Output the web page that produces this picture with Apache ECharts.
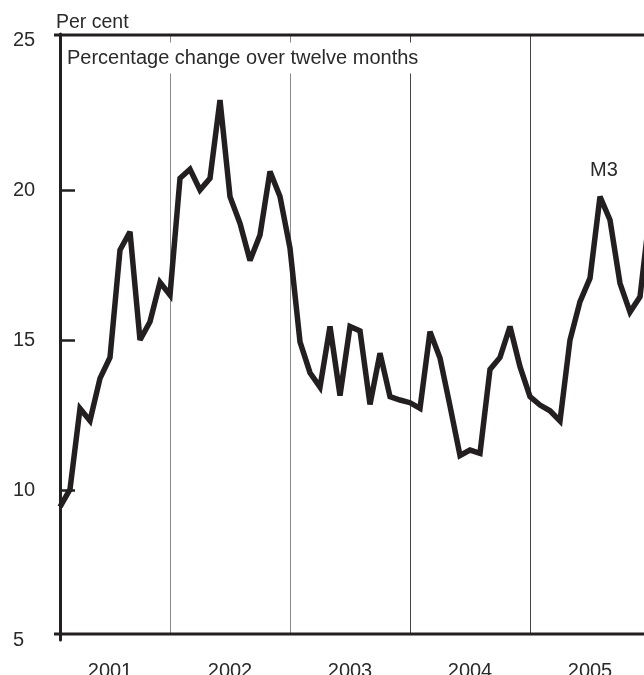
<!DOCTYPE html>
<html><head><meta charset="utf-8">
<script src="https://cdn.jsdelivr.net/npm/echarts@6/dist/echarts.min.js"></script>
<style>html,body{margin:0;padding:0;background:#fff}#c{width:644px;height:675px}</style>
</head><body><div id="c"></div>
<script>
// Monthly M3, percentage change over twelve months; index 0 = Jan 2001
const m3Values = [
  9.44, 10.02, 12.72, 12.31, 13.72, 14.42, 18.0, 18.61, 15.0, 15.61, 16.92, 16.5,
  20.39, 20.69, 20.0, 20.39, 23.0, 19.78, 18.89, 17.65, 18.5, 20.62, 19.78, 18.06,
  14.94, 13.91, 13.43, 15.45, 13.15, 15.45, 15.3, 12.85, 14.56, 13.11, 13.0, 12.91,
  12.72, 15.28, 14.4, 12.8, 11.15, 11.33, 11.22, 14.02, 14.42, 15.45, 14.11, 13.11,
  12.83, 12.64, 12.3, 15.0, 16.28, 17.06, 19.78, 19.0, 16.89, 15.93, 16.44, 19.3
];
const yearLabels = ['2001', '2002', '2003', '2004', '2005'];
const yearLabelPos = [5, 17, 29, 41, 53];
const yearBoundaries = [11, 23, 35, 47];
const boundaryColors = ['#8a8a8a', '#8a8a8a', '#444', '#444'];
const yTickLabels = [5, 10, 15, 20, 25];
const yInnerTicks = [10, 15, 20];
const yMin = 5, yMax = 25.2, frameBottom = 5.2;

const FONT = '"Liberation Sans", Arial, sans-serif';
const TXT = '#2a2a2a';
const INK = '#231f20';

const chart = echarts.init(document.getElementById('c'), null, {renderer: 'canvas'});
chart.setOption({
  animation: false,
  backgroundColor: '#fff',
  grid: {left: 55, right: 0, top: 34, bottom: 35, containLabel: false, outerBoundsMode: 'none'},
  xAxis: {
    type: 'value', min: -0.5, max: 58.4,
    axisLine: {show: false}, axisTick: {show: false}, splitLine: {show: false},
    axisLabel: {
      customValues: yearLabelPos,
      formatter: v => yearLabels[yearLabelPos.indexOf(v)] || '',
      margin: 21, fontSize: 20, color: TXT, fontFamily: FONT
    }
  },
  yAxis: {
    type: 'value', min: yMin, max: yMax, interval: 5,
    axisLine: {show: true, lineStyle: {color: INK, width: 3}},
    axisTick: {show: true, inside: true, length: 15, customValues: yInnerTicks,
      lineStyle: {color: INK, width: 2.5}},
    axisLabel: {customValues: yTickLabels, align: 'left', margin: 42,
      fontSize: 20, color: TXT, fontFamily: FONT, padding: [4, 0, 0, 0]},
    splitLine: {show: false}
  },
  series: [{
    type: 'line',
    data: m3Values.map((v, i) => [i, v]),
    symbol: 'none',
    clip: true,
    lineStyle: {color: INK, width: 5.5, join: 'miter', cap: 'butt', miterLimit: 3},
    z: 5,
    markLine: {
      silent: true, symbol: ['none', 'none'], label: {show: false},
      animation: false,
      data: yearBoundaries.map((b, k) => [
        {coord: [b, frameBottom], lineStyle: {color: boundaryColors[k], width: 1, type: 'solid'}},
        {coord: [b, yMax]}
      ])
    }
  }],
  graphic: [
    {type: 'line', z: 50, shape: {x1: 54, y1: 35, x2: 644, y2: 35}, style: {stroke: INK, lineWidth: 3}},
    {type: 'line', z: 50, shape: {x1: 54, y1: 634, x2: 644, y2: 634}, style: {stroke: INK, lineWidth: 3}},
    {type: 'text', z: 50, x: 56, y: 23, style: {text: 'Per cent', font: '19.5px ' + FONT, fill: TXT, textVerticalAlign: 'middle'}},
    {type: 'text', z: 60, x: 64, y: 58, style: {text: 'Percentage change over twelve months', font: '20px ' + FONT, fill: TXT,
      textVerticalAlign: 'middle', backgroundColor: '#fff', padding: [5, 3, 6, 3]}},
    {type: 'text', z: 50, x: 604, y: 170, style: {text: 'M3', font: '20px ' + FONT, fill: TXT, textAlign: 'center', textVerticalAlign: 'middle'}}
  ]
});
</script>
</body></html>
